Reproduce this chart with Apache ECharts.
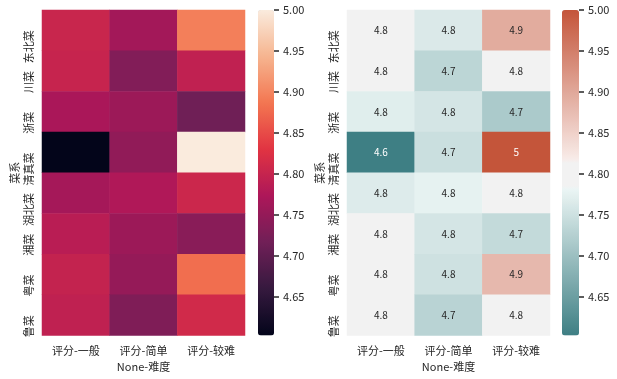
<!DOCTYPE html>
<html><head><meta charset="utf-8">
<script src="https://cdn.jsdelivr.net/npm/echarts@6/dist/echarts.min.js"></script>
<style>html,body{margin:0;padding:0;background:#fff}#c{width:617px;height:379px}</style>
</head><body><div id="c"></div><script>
// ---- data ----
const cuisines = ['东北菜', '川菜', '浙菜', '清真菜', '湖北菜', '湘菜', '粤菜', '鲁菜'];
const difficulties = ['评分-一般', '评分-简单', '评分-较难'];
const scoreNormal = [4.803, 4.800, 4.770, 4.603, 4.766, 4.786, 4.797, 4.793];
const scoreEasy   = [4.764, 4.733, 4.757, 4.747, 4.776, 4.757, 4.751, 4.730];
const scoreHard   = [4.895, 4.794, 4.715, 5.000, 4.806, 4.740, 4.880, 4.811];
const colorbarTicks = [4.65, 4.70, 4.75, 4.80, 4.85, 4.90, 4.95, 5.00];
const xName = 'None-难度';
const yName = '菜系';
const divCenter = 4.8;

// ---- build ----
const columns = [scoreNormal, scoreEasy, scoreHard];
const all = columns.flat();
const vmin = Math.min(...all), vmax = Math.max(...all);

function hex2rgb(h){h=h.replace('#','');return [0,2,4].map(i=>parseInt(h.substr(i,2),16));}
function rgb2hex(c){return '#'+c.map(v=>Math.round(Math.max(0,Math.min(255,v))).toString(16).padStart(2,'0')).join('');}
function mix(a,b,f){return a.map((v,i)=>v+(b[i]-v)*f);}

const rocket = ['#03051a','#35193e','#701f57','#ad1759','#e13342','#f37651','#f6b48f','#faebdd'];
const teal = hex2rgb('#3b7d82'), tealLight = hex2rgb('#eef7f6'), gray = hex2rgb('#f2f2f2'),
      pinkLight = hex2rgb('#f9eeeb'), red = hex2rgb('#c4553a');
const bandLo = 0.46, bandHi = 0.5375;
function divRGB(v){
  const half = Math.max(vmax - divCenter, divCenter - vmin);
  const t = (v - (divCenter - half)) / (2 * half);
  if (t <= bandLo) return mix(teal, tealLight, Math.max(0, t) / bandLo);
  if (t <= bandHi) return gray;
  return mix(pinkLight, red, Math.min(1, (t - bandHi) / (1 - bandHi)));
}
const divColors = [];
for (let i = 0; i <= 120; i++) divColors.push(rgb2hex(divRGB(vmin + (vmax - vmin) * i / 120)));
function lum(c){const l=c.map(x=>{x/=255;return x<=0.03928?x/12.92:Math.pow((x+0.055)/1.055,2.4);});return 0.2126*l[0]+0.7152*l[1]+0.0722*l[2];}

const leftData = [], rightData = [];
columns.forEach((col, xi) => col.forEach((v, yi) => {
  leftData.push([xi, yi, v]);
  const c = divRGB(v);
  rightData.push({value: [xi, yi, v], label: {color: lum(c) > 0.408 ? '#262626' : '#ffffff'}});
}));

const FONT = 'Noto Sans CJK SC';
const TXT = '#262626';
const PLOT_TOP = 10, PLOT_H = 325.5;
const CB = [{grid:1, left:258, width:16}, {grid:3, left:562, width:17}];

function catX(gi){
  return {type:'category', gridIndex:gi, data:difficulties, position:'bottom',
    axisLine:{show:false}, axisTick:{show:false}, splitLine:{show:false},
    axisLabel:{color:TXT, fontFamily:FONT, fontSize:11, margin:10, interval:0},
    name:xName, nameLocation:'middle', nameGap:25,
    nameTextStyle:{color:TXT, fontFamily:FONT, fontSize:11}};
}
function catY(gi){
  return {type:'category', gridIndex:gi, data:cuisines, inverse:true,
    axisLine:{show:false}, axisTick:{show:false}, splitLine:{show:false},
    axisLabel:{color:TXT, fontFamily:FONT, fontSize:11, rotate:90, align:'right', verticalAlign:'bottom', margin:8, interval:0, hideOverlap:false},
    name:yName, nameLocation:'middle', nameGap:22, nameRotate:90,
    nameTextStyle:{color:TXT, fontFamily:FONT, fontSize:11}};
}
function cbX(gi){return {type:'value', gridIndex:gi, show:false, min:0, max:1};}
function cbY(gi){
  return {type:'value', gridIndex:gi, min:vmin, max:vmax, position:'right',
    axisLine:{show:false}, splitLine:{show:false}, axisTick:{show:false},
    axisLabel:{color:TXT, fontFamily:FONT, fontSize:11, margin:9, customValues:colorbarTicks,
      formatter:v=>Number(v).toFixed(2)}};
}

const option = {
  backgroundColor:'#ffffff',
  animation:false,
  grid:[
    {left:42, top:PLOT_TOP, width:203, height:PLOT_H},
    {left:CB[0].left, top:PLOT_TOP, width:CB[0].width, height:PLOT_H},
    {left:347, top:PLOT_TOP, width:203, height:PLOT_H},
    {left:CB[1].left, top:PLOT_TOP, width:CB[1].width, height:PLOT_H}
  ],
  xAxis:[catX(0), cbX(1), catX(2), cbX(3)],
  yAxis:[catY(0), cbY(1), catY(2), cbY(3)],
  visualMap:[
    {type:'continuous', seriesIndex:0, min:vmin, max:vmax, inRange:{color:rocket},
     left:CB[0].left, top:PLOT_TOP, itemWidth:CB[0].width, itemHeight:PLOT_H, padding:0, calculable:false, hoverLink:false, showLabel:false},
    {type:'continuous', seriesIndex:1, min:vmin, max:vmax, inRange:{color:divColors},
     left:CB[1].left, top:PLOT_TOP, itemWidth:CB[1].width, itemHeight:PLOT_H, padding:0, calculable:false, hoverLink:false, showLabel:false}
  ],
  series:[
    {type:'heatmap', xAxisIndex:0, yAxisIndex:0, data:leftData, label:{show:false}, emphasis:{disabled:true}},
    {type:'heatmap', xAxisIndex:2, yAxisIndex:2, data:rightData,
     label:{show:true, fontFamily:FONT, fontSize:10, formatter:p=>String(Number(p.value[2].toPrecision(2)))},
     emphasis:{disabled:true}}
  ]
};
const chart = echarts.init(document.getElementById('c'), null, {renderer:'canvas'});
chart.setOption(option);

// colorbar tick marks, positioned through the colorbar axes' own scale, on a top layer
const tickGraphics = [];
CB.forEach(cb => {
  colorbarTicks.forEach(v => {
    const y = chart.convertToPixel({yAxisIndex: cb.grid}, v);
    tickGraphics.push({type:'rect', left:cb.left + cb.width, top:Math.round(y) - 0.75,
      shape:{x:0, y:0, width:5, height:1.5},
      style:{fill:TXT}, silent:true, z:100, zlevel:5});
  });
});
chart.setOption({graphic: {zlevel:5, z:100, elements: tickGraphics}});
</script></body></html>
